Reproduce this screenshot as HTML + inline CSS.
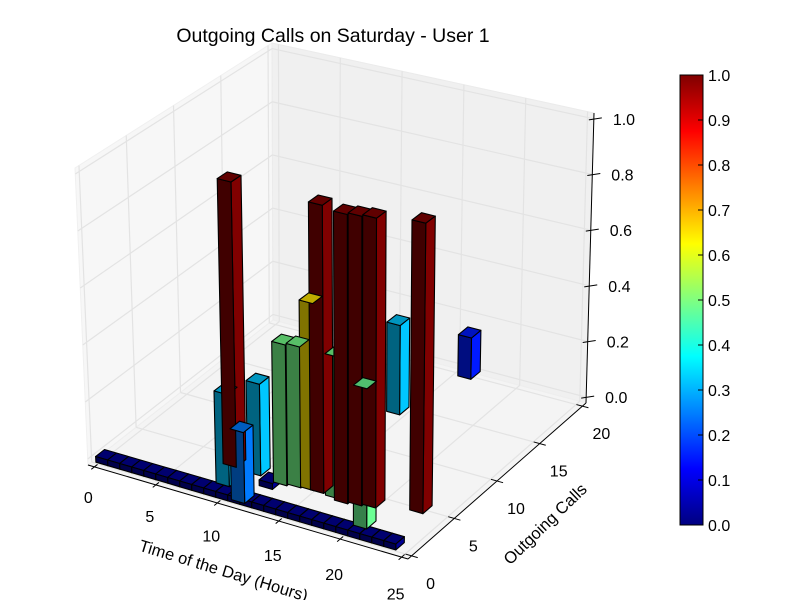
<!DOCTYPE html>
<html><head><meta charset="utf-8"><style>
html,body{margin:0;padding:0;background:#fff;}
svg{display:block;font-family:"Liberation Sans",Arial,sans-serif;}
</style></head><body>
<svg id="chart" width="800" height="600" viewBox="0 0 800 600">
<rect x="0" y="0" width="800" height="600" fill="#fff"/>
<text x="333" y="42" font-size="19.5" text-anchor="middle">Outgoing Calls on Saturday - User 1</text>
<g id="panes"></g>
<g id="axes"></g>
<g id="bars"></g>
<text x="0" y="0" font-size="16.5" text-anchor="middle" transform="translate(222,576) rotate(17)">Time of the Day (Hours)</text>
<text x="0" y="0" font-size="16.5" text-anchor="middle" transform="translate(549,528) rotate(-44)">Outgoing Calls</text>
<g id="cbar"></g>
</svg>
<script>
// ---- data ----
const rowHours = [0,1,2,3,4,5,6,7,8,9,10,11,12,13,14,15,16,17,18,19,20,21,22,23,24];
const rowValues = [0.02,0.02,0.02,0.02,0.02,0.02,0.02,0.02,0.02,0.02,0.02,0.02,0.02,0.02,0.02,0.02,0.02,0.02,0.02,0.02,0.02,0.02,0.02,0.02,0.02];
const rowCalls = -0.5;
const hours  = [7.9, 8.9, 11.05, 10.0, 12.3, 13.3, 14.3, 15.1, 16.4, 17.3, 18.3, 19.3, 20.25, 14.0, 22.6, 15.8, 11.7];
const calls  = [3.2, 1.0, -0.27, 3.05, 2.8, 3.0, 3.1, 3.1, 3.0, 2.75, 2.95, 3.15, 0.76, 13.4, 3.95, 19.1, 2.0];
const values = [1.0, 0.32, 0.245, 0.32, 0.49, 0.49, 0.65, 1.0, 0.49, 1.0, 1.0, 1.0, 0.48, 0.32, 1.0, 0.15, 0.02];
const xTicks = [0,5,10,15,20,25];
const yTicks = [0,5,10,15,20];
const zTicks = [0,0.2,0.4,0.6,0.8,1.0];
const zTickLabels = ["0.0","0.2","0.4","0.6","0.8","1.0"];
const cbTicks = [0,0.1,0.2,0.3,0.4,0.5,0.6,0.7,0.8,0.9,1.0];
const cbTickLabels = ["0.0","0.1","0.2","0.3","0.4","0.5","0.6","0.7","0.8","0.9","1.0"];

// ---- projection ----
const XA=-0.52, XB=25.52, YA=-0.42, YB=20.42, ZA=-0.021, ZB=1.021;
const C = {
 c000:[88,465], c100:[408,559], c110:[586,403], c010:[273,320],
 c001:[75,168], c101:[411,252], c111:[594,113], c011:[272,43]
};
function frac(x,y,z){return [(x-XA)/(XB-XA),(y-YA)/(YB-YA),(z-ZA)/(ZB-ZA)];}
function P(x,y,z){
  const [u,v,w]=frac(x,y,z);
  const r=[0,0];
  for(let k=0;k<2;k++){
    r[k]=C.c000[k]*(1-u)*(1-v)*(1-w)+C.c100[k]*u*(1-v)*(1-w)+C.c110[k]*u*v*(1-w)+C.c010[k]*(1-u)*v*(1-w)
      +C.c001[k]*(1-u)*(1-v)*w+C.c101[k]*u*(1-v)*w+C.c111[k]*u*v*w+C.c011[k]*(1-u)*v*w;
  }
  return r;
}
function depth(x,y,z){const [u,v,w]=frac(x,y,z);return 0.433*u-0.75*v+0.5*w;}
const NS="http://www.w3.org/2000/svg";
function mk(tag,attrs,parent){const e=document.createElementNS(NS,tag);for(const k in attrs)e.setAttribute(k,attrs[k]);parent.appendChild(e);return e;}
function pts(a){return a.map(p=>p[0].toFixed(1)+","+p[1].toFixed(1)).join(" ");}
function jet(v){
  const cl=t=>Math.max(0,Math.min(1,t));
  return [cl(1.5-Math.abs(4*v-3)),cl(1.5-Math.abs(4*v-2)),cl(1.5-Math.abs(4*v-1))];
}
function rgb(c,f){return "rgb("+c.map(t=>Math.round(t*f*255)).join(",")+")";}

// ---- panes ----
const panes=document.getElementById('panes');
let e;
e=mk('polygon',{points:pts([P(XA,YA,ZA),P(XA,YB,ZA),P(XA,YB,ZB),P(XA,YA,ZB)]),fill:'#f7f7f7',stroke:'#f0f0f0'},panes);


e=mk('polygon',{points:pts([P(XA,YB,ZA),P(XB,YB,ZA),P(XB,YB,ZB),P(XA,YB,ZB)]),fill:'#f0f0f0',stroke:'#ebebeb'},panes);


e=mk('polygon',{points:pts([P(XA,YA,ZA),P(XB,YA,ZA),P(XB,YB,ZA),P(XA,YB,ZA)]),fill:'#f4f4f4',stroke:'#eeeeee'},panes);


function gl(a,b,name){const l=mk('line',{x1:a[0],y1:a[1],x2:b[0],y2:b[1],stroke:'#e3e3e3','stroke-width':1.2},panes);

}
xTicks.forEach(t=>{gl(P(t,YA,ZA),P(t,YB,ZA),'floor-gridline-x');gl(P(t,YB,ZA),P(t,YB,ZB),'back-gridline-x');});
yTicks.forEach(t=>{gl(P(XA,t,ZA),P(XB,t,ZA),'floor-gridline-y');gl(P(XA,t,ZA),P(XA,t,ZB),'left-gridline-y');});
zTicks.forEach(t=>{gl(P(XA,YB,t),P(XB,YB,t),'back-gridline-z');gl(P(XA,YA,t),P(XA,YB,t),'left-gridline-z');});

// ---- axes ----
const axes=document.getElementById('axes');
function ln(a,b,name,w){const l=mk('line',{x1:a[0],y1:a[1],x2:b[0],y2:b[1],stroke:'#000','stroke-width':w||1},axes);

}
ln(P(XA,YA,ZA),P(XB,YA,ZA),'x-axis-line');
ln(P(XB,YA,ZA),P(XB,YB,ZA),'y-axis-line');
ln(P(XB,YB,ZA),P(XB,YB,ZB),'z-axis-line');
xTicks.forEach(t=>{
  ln(P(t,YA-0.35,ZA),P(t,YA+0.35,ZA),'x-tick');
  const p=P(t,YA,ZA);
  const tx=mk('text',{x:p[0]-6,y:p[1]+36+0.25*t,'font-size':16,'text-anchor':'middle'},axes);tx.textContent=t;
  
  
});
yTicks.forEach(t=>{
  ln(P(XB-0.5,t,ZA),P(XB+0.5,t,ZA),'y-tick');
  const p=P(XB,t,ZA);
  const tx=mk('text',{x:p[0]+19,y:p[1]+33,'font-size':16,'text-anchor':'middle'},axes);tx.textContent=t;
  
  
});
zTicks.forEach((t,i)=>{
  const p=P(XB,YB,t);
  ln([p[0]-5,p[1]+1],[p[0]+8,p[1]-1],'z-tick');
  const tx=mk('text',{x:p[0]+19,y:p[1]+6,'font-size':16},axes);tx.textContent=zTickLabels[i];
  
  
});

// ---- bars ----
const bars=document.getElementById('bars');
const faces=[];
function addBar(x0,y0,h,dx,dy,name){
  const col=jet(h);
  const a=P(x0,y0,0),b=P(x0+dx,y0,0),c=P(x0+dx,y0+dy,0);
  const a1=P(x0,y0,h),b1=P(x0+dx,y0,h),c1=P(x0+dx,y0+dy,h),d1=P(x0,y0+dy,h);
  faces.push({p:[a,b,b1,a1],f:rgb(col,0.5),d:depth(x0+dx/2,y0,h/2),n:name+'-front'});
  faces.push({p:[b,c,c1,b1],f:rgb(col,1.0),d:depth(x0+dx,y0+dy/2,h/2),n:name+'-side'});
  faces.push({p:[a1,b1,c1,d1],f:rgb(col,0.75),d:depth(x0+dx/2,y0+dy/2,h),n:name+'-top'});
}
rowHours.forEach((hr,i)=>addBar(hr*0.975+0.2,rowCalls,rowValues[i],0.975,1.0,'row-bar-'+hr));
hours.forEach((hr,i)=>addBar(hr,calls[i],values[i],1.08,1.08,'bar-'+i));
faces.sort((p,q)=>p.d-q.d);
faces.forEach(fc=>{
  const pg=mk('polygon',{points:pts(fc.p),fill:fc.f,stroke:'#000','stroke-width':1.1,'stroke-linejoin':'round'},bars);
  
  
});

// ---- colorbar ----
const cb=document.getElementById('cbar');
const defs=mk('defs',{},cb);
const grad=mk('linearGradient',{id:'jetg',x1:0,y1:1,x2:0,y2:0},defs);
for(let i=0;i<=40;i++){const v=i/40;mk('stop',{offset:v,'stop-color':rgb(jet(v),1)},grad);}
const CBX=680,CBW=23,CBT=75,CBB=525;
e=mk('rect',{x:CBX,y:CBT,width:CBW,height:CBB-CBT,fill:'url(#jetg)',stroke:'#000','stroke-width':1},cb);


cbTicks.forEach((t,i)=>{
  const y=CBB-(CBB-CBT)*t;
  const l=mk('line',{x1:CBX+CBW-5,y1:y,x2:CBX+CBW,y2:y,stroke:'#000','stroke-width':1},cb);
  
  
  const tx=mk('text',{x:CBX+CBW+5,y:y+6,'font-size':16},cb);tx.textContent=cbTickLabels[i];
  
  
});
</script>
</body></html>
